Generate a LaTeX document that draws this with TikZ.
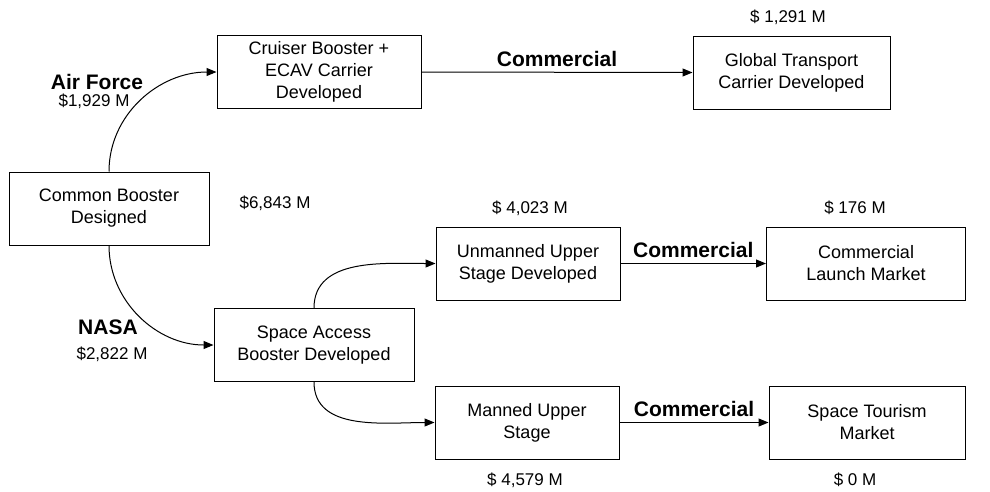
\documentclass[tikz,border=0pt]{standalone}
\usepackage{fontspec}
\setmainfont{Liberation Sans}
\usetikzlibrary{arrows.meta}

\tikzset{
  box/.style={draw, line width=1pt, align=center, minimum height=73pt,
    font=\fontsize{18}{22}\selectfont},
  money/.style={font=\fontsize{17}{20}\selectfont},
  agency/.style={font=\fontsize{21}{22}\selectfont\bfseries},
  flow/.style={line width=1pt, -{Triangle[length=10pt,width=8pt]}},
}

\begin{document}
\begin{tikzpicture}[x=1pt,y=-1pt]
 \useasboundingbox (0,0) rectangle (990,491);
 % boxes
 \node[box, minimum width=200pt] (cb) at (109,208.5) {Common Booster\\Designed};
 \node[box, minimum width=204pt] (cr) at (319,72) {Cruiser Booster +\\ECAV Carrier\\Developed};
 \node[box, minimum width=197pt] (gt) at (791.5,72.5) {Global Transport\\Carrier Developed};
 \node[box, minimum width=200pt] (sa) at (314,345) {Space Access\\Booster Developed};
 \node[box, minimum width=184pt] (uu) at (528,263.5) {Unmanned Upper\\Stage Developed};
 \node[box, minimum width=199pt] (cl) at (866,263.5) {Commercial\\Launch Market};
 \node[box, minimum width=184pt] (mu) at (527,422.5) {Manned Upper\\Stage};
 \node[box, minimum width=196pt] (st) at (867,422.5) {Space Tourism\\Market};
 %
 \node[money] (m1) at (788,17) {\$ 1,291 M};
 \node[money] (m2) at (275,203) {\$6,843 M};
 \node[money] (m3) at (530,208) {\$ 4,023 M};
 \node[money] (m4) at (855,208) {\$ 176 M};
 \node[money] (m5) at (525,480) {\$ 4,579 M};
 \node[money] (m6) at (855,480) {\$ 0 M};
 \node[agency] (af) at (97,82) {Air Force};
 \node[money] (af1) at (94,101) {\$1,929 M};
 \node[agency] (na) at (108,327) {NASA};
 \node[money] (na1) at (112,354) {\$2,822 M};
 %
 \draw[flow] (cb.north) to[out=90,in=180] (cr.west);
 \draw[flow] (cb.south) to[out=-90,in=180] (sa.west);
 \draw[flow] (sa.north) to[out=90,in=180] (uu.west);
 \draw[flow] (sa.south) to[out=-90,in=180] (mu.west);
 \draw[flow] (cr.east) -- node[agency, above, yshift=2pt] {Commercial} (gt.west);
 \draw[flow] (uu.east) -- node[agency, above, yshift=2pt] {Commercial} (cl.west);
 \draw[flow] (mu.east) -- node[agency, above, yshift=2pt] {Commercial} (st.west);
\end{tikzpicture}
\end{document}
